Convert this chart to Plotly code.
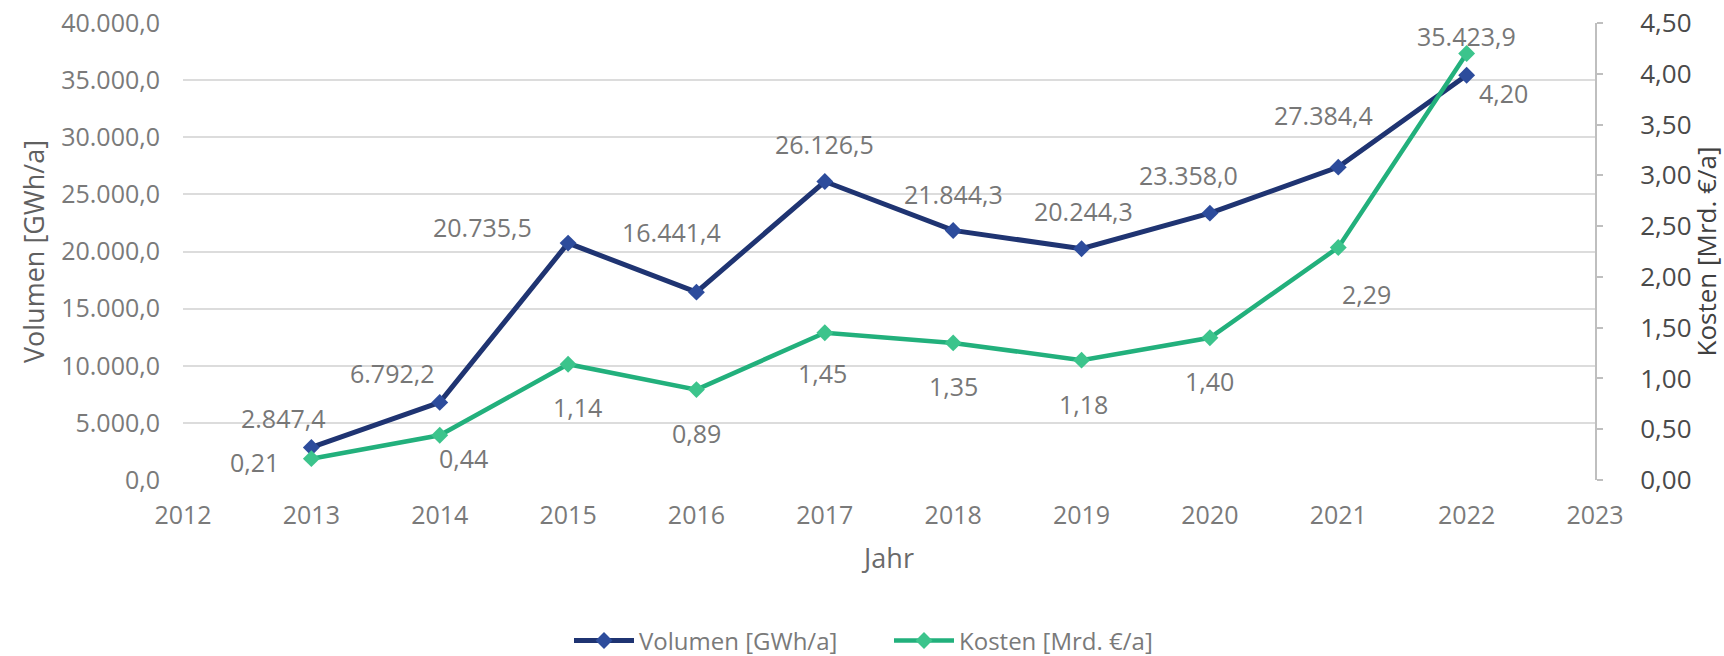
import plotly.graph_objects as go

# ---- data ----
years = [2013, 2014, 2015, 2016, 2017, 2018, 2019, 2020, 2021, 2022]
volumen = [2847.4, 6792.2, 20735.5, 16441.4, 26126.5, 21844.3, 20244.3, 23358.0, 27384.4, 35423.9]
kosten = [0.21, 0.44, 1.14, 0.89, 1.45, 1.35, 1.18, 1.40, 2.29, 4.20]
series_names = ["Volumen [GWh/a]", "Kosten [Mrd. €/a]"]

# ---- label placement (pixel offsets from the point, style only) ----
vol_dx = [-28, -47, -86, -25, 0, 0, 2, -21, -15, 0]
vol_dy = [-29, -29, -16, -60, -38, -36, -38, -38, -52, -39]
kos_dx = [-57, 24, 9, 0, -2, 0, 2, 0, 28, 37]
kos_dy = [3, 23, 43, 43, 40, 43, 44, 43, 47, 40]

BLUE_LINE = "#1f3472"
BLUE_MARK = "#2d4c9c"
GREEN_LINE = "#22b07c"
GREEN_MARK = "#3cc48c"
FONT = "Open Sans"
LABEL_COLOR = "#777777"


def de(v, d):
    s = f"{v:,.{d}f}"
    return s.replace(",", "X").replace(".", ",").replace("X", ".")


fig = go.Figure()
fig.add_trace(go.Scatter(
    x=years, y=volumen, name=series_names[0], mode="lines+markers",
    line=dict(color=BLUE_LINE, width=5),
    marker=dict(symbol="diamond", size=13, color=BLUE_MARK),
    yaxis="y",
))
fig.add_trace(go.Scatter(
    x=years, y=kosten, name=series_names[1], mode="lines+markers",
    line=dict(color=GREEN_LINE, width=4.5),
    marker=dict(symbol="diamond", size=13, color=GREEN_MARK),
    yaxis="y2",
))

annotations = []
for i, yr in enumerate(years):
    annotations.append(dict(
        x=yr, y=volumen[i], xref="x", yref="y", text=de(volumen[i], 1),
        showarrow=False, xanchor="center", yanchor="middle",
        xshift=vol_dx[i], yshift=-vol_dy[i],
        font=dict(family=FONT, size=25, color=LABEL_COLOR),
    ))
    annotations.append(dict(
        x=yr, y=kosten[i], xref="x", yref="y2", text=de(kosten[i], 2),
        showarrow=False, xanchor="center", yanchor="middle",
        xshift=kos_dx[i], yshift=-kos_dy[i],
        font=dict(family=FONT, size=25, color=LABEL_COLOR),
    ))

fig.update_layout(
    width=1724, height=656,
    margin=dict(l=183, r=129, t=23, b=176, autoexpand=False),
    separators=",.",
    plot_bgcolor="white", paper_bgcolor="white",
    font=dict(family=FONT, color="#6f6f6f"),
    showlegend=True,
    legend=dict(
        orientation="h", x=0.5, xanchor="center", y=-0.352, yanchor="middle",
        font=dict(family=FONT, size=24, color="#7a7a7a"),
        itemwidth=60, entrywidth=245, bgcolor="rgba(0,0,0,0)",
    ),
    xaxis=dict(
        range=[2012, 2023], tickmode="linear", tick0=2012, dtick=1,
        showgrid=False, zeroline=False, showline=False, ticks="",
        tickfont=dict(family=FONT, size=25, color="#7a7a7a"),
        ticklabelstandoff=18,
        title=dict(text="Jahr", font=dict(family=FONT, size=27, color="#6a6a6a"), standoff=19),
    ),
    yaxis=dict(
        range=[0, 40000], tickmode="linear", tick0=0, dtick=5000, tickformat=",.1f",
        showgrid=True, gridcolor="#dcdcdc", gridwidth=2,
        zeroline=False, showline=False, ticks="",
        tickfont=dict(family=FONT, size=25, color="#7a7a7a"),
        ticklabelstandoff=22, ticklabeloverflow="allow",
        title=dict(text=series_names[0], font=dict(family=FONT, size=27, color="#606060"), standoff=8),
    ),
    yaxis2=dict(
        range=[0, 4.5], tickmode="linear", tick0=0, dtick=0.5, tickformat=".2f",
        overlaying="y", side="right", showgrid=False, zeroline=False,
        showline=True, linecolor="#bfbfbf", linewidth=2,
        ticks="outside", ticklen=6, tickcolor="#bfbfbf", tickwidth=2,
        tickfont=dict(family=FONT, size=26, color="#4a4a4a"),
        ticklabelstandoff=32, ticklabeloverflow="allow",
        title=dict(text=series_names[1], font=dict(family=FONT, size=26, color="#404040"), standoff=17),
    ),
    annotations=annotations,
)

# remove the browser's default 8px body margin so the figure fills the window exactly
fig.write_html(
    "out.html",
    config={"displayModeBar": False},
    post_script="document.body.style.margin='0';",
)
